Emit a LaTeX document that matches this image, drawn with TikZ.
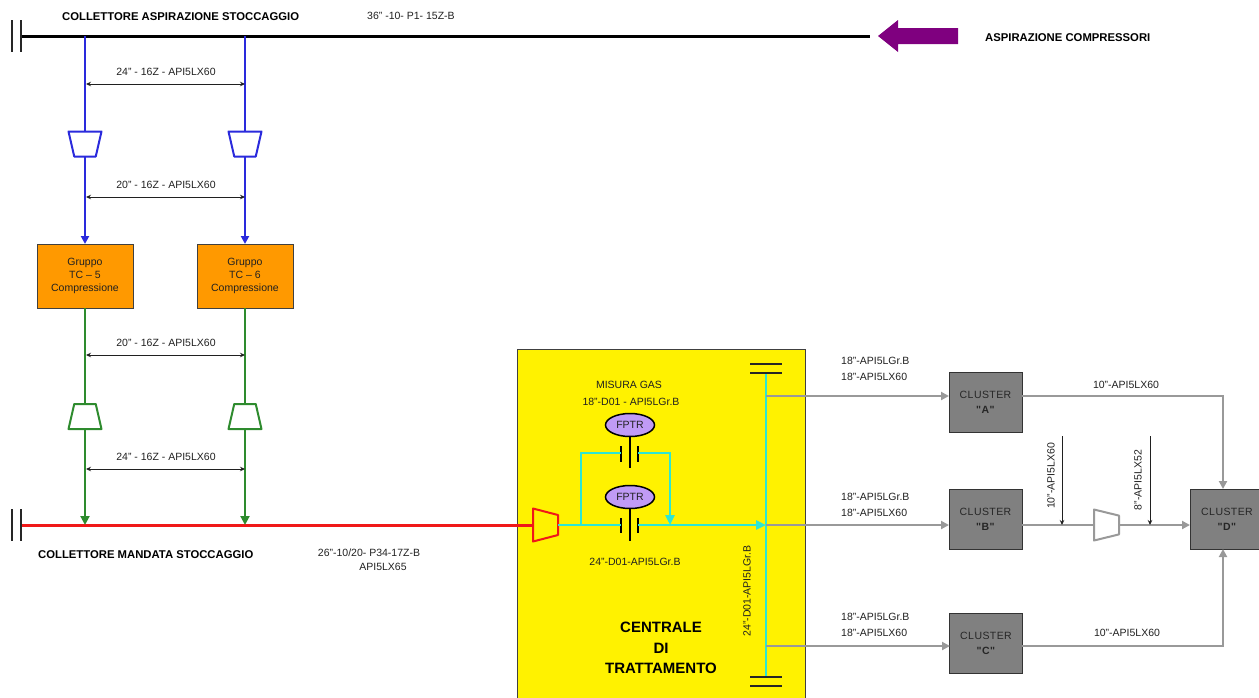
\documentclass[tikz,border=0pt]{standalone}
\usepackage{fontspec}
\setmainfont{Liberation Sans}
\newfontfamily\clusterfont[LetterSpace=4]{Liberation Sans}
\usetikzlibrary{arrows.meta,shapes.geometric,calc}
\definecolor{pipeblue}{HTML}{2A2ADC}
\definecolor{pipegreen}{HTML}{2E8B2E}
\definecolor{piperd}{HTML}{F01818}
\definecolor{pipecyan}{HTML}{2EE6D2}
\definecolor{pipegrey}{HTML}{999999}
\definecolor{boxorange}{HTML}{FF9900}
\definecolor{boxgrey}{HTML}{808080}
\definecolor{fptrfill}{HTML}{C09BF5}
\definecolor{arrowpurple}{HTML}{7F007F}
\definecolor{txt}{HTML}{202020}
\newcommand{\rdz}{\phantom{\rule{1pt}{1pt}}}
\tikzset{
  small/.style={font=\fontsize{10.5}{12}\selectfont,text=txt,inner sep=0pt},
  title/.style={font=\fontsize{11.3}{13}\bfseries\selectfont,text=black,inner sep=0pt},
  big/.style={font=\fontsize{15}{18}\bfseries\selectfont,text=black,inner sep=0pt},
  reducer/.style={trapezium,trapezium stretches=true,minimum width=33pt,minimum height=25pt,
    inner sep=0pt,outer sep=0pt,trapezium left angle=75,trapezium right angle=75,line width=2pt,line join=round},
  reducerh/.style={trapezium,trapezium stretches=true,minimum width=33pt,minimum height=25pt,
    inner sep=0pt,outer sep=0pt,trapezium left angle=72,trapezium right angle=72,line width=2pt,line join=round,rotate=-90},
  group/.style={draw=black!75,line width=.8pt,fill=boxorange,minimum width=96pt,minimum height=64pt,inner sep=0pt,outer sep=0pt,align=center,
    font=\fontsize{10.5}{12.6}\selectfont,text=txt},
  cluster/.style={draw=black!80,line width=.9pt,fill=boxgrey,minimum width=73pt,minimum height=60pt,inner sep=0pt,outer sep=0pt,align=center,
    font=\fontsize{10.5}{15}\clusterfont\selectfont,text=black!85},
  fptr/.style={ellipse,draw=black,line width=1.5pt,fill=fptrfill,minimum width=49pt,minimum height=23pt,inner sep=0pt,outer sep=0pt,
    font=\fontsize{10.5}{12}\selectfont,text=txt},
  dim/.style={draw=txt,line width=.9pt,{Stealth[length=5pt,width=4.5pt]}-{Stealth[length=5pt,width=4.5pt]}},
  note/.style={draw=txt,line width=.9pt,-{Stealth[length=5pt,width=4.5pt]}},
  flange/.style={draw=black!85,line width=1.6pt},
  blueln/.style={draw=pipeblue,line width=2.4pt},
  greenln/.style={draw=pipegreen,line width=2pt},
  cyanln/.style={draw=pipecyan,line width=2.6pt},
  greyln/.style={draw=pipegrey,line width=2pt},
  tipblue/.style={-{Triangle[length=8pt,width=8pt]}},
  tipg/.style={-{Triangle[length=9pt,width=9pt]}},
}
\begin{document}
\begin{tikzpicture}[x=1pt,y=-1pt]
\useasboundingbox (0,0) rectangle (1259,697);
\clip (0,0) rectangle (1259,697);
% yellow plant area
\node[draw=black!75,line width=1pt,fill=yellow,minimum width=288pt,minimum height=362pt,inner sep=0pt,outer sep=0pt,anchor=north west] (plant) at (517,349) {};
% upper header
\coordinate (hl) at (21,36);
\coordinate (hr) at (870,36);
\draw[black,line width=3pt] (hl) -- (hr);
\coordinate (fa1) at (12,20); \coordinate (fa2) at (12,52);
\coordinate (fb1) at (21,20); \coordinate (fb2) at (21,52);
\draw[flange] (fa1) -- (fa2);
\draw[flange] (fb1) -- (fb2);
\node[title,anchor=west] (t1) at (62,17) {COLLETTORE ASPIRAZIONE STOCCAGGIO};
\node[small,anchor=west] (t2) at (367,16) {36" -10- P1- 15Z-B};
\coordinate (pa) at (878,36);
\fill[arrowpurple] (pa) -- ++(20,-16) -- ++(0,8) -- ++(60,0) -- ++(0,16) -- ++(-60,0) -- ++(0,8) -- cycle;
\node[title,anchor=west] (t3) at (985,38) {ASPIRAZIONE COMPRESSORI};
% groups
\node[group] (g5) at (85,276) {Gruppo\\TC -- 5\\Compressione};
\node[group] (g6) at (245,276) {Gruppo\\TC -- 6\\Compressione};
% blue reducers
\node[reducer,draw=pipeblue,fill=white,rotate=180] (rb1) at (85,144) {\rdz};
\node[reducer,draw=pipeblue,fill=white,rotate=180] (rb2) at (245,144) {\rdz};
\coordinate (b1) at (85,36); \coordinate (b2) at (245,36);
\draw[blueln] (b1) -- (rb1.bottom side);
\draw[blueln] (b2) -- (rb2.bottom side);
\draw[blueln,tipblue] (rb1.top side) -- (g5.north);
\draw[blueln,tipblue] (rb2.top side) -- (g6.north);
% green reducers
\node[reducer,draw=pipegreen,fill=white] (rg1) at (85,416.5) {\rdz};
\node[reducer,draw=pipegreen,fill=white] (rg2) at (245,416.5) {\rdz};
\coordinate (m1) at (85,525); \coordinate (m2) at (245,525);
\draw[greenln] (g5.south) -- (rg1.top side);
\draw[greenln] (g6.south) -- (rg2.top side);
% lower header
\node[reducerh,draw=piperd,fill=yellow] (rr) at (545.5,525) {\rdz};
\coordinate (ml) at (21,525);
\draw[piperd,line width=3pt] (ml) -- (rr.bottom side);
\coordinate (fc1) at (12,509); \coordinate (fc2) at (12,541);
\coordinate (fd1) at (21,509); \coordinate (fd2) at (21,541);
\draw[flange] (fc1) -- (fc2);
\draw[flange] (fd1) -- (fd2);
\draw[greenln,tipg] (rg1.bottom side) -- (m1);
\draw[greenln,tipg] (rg2.bottom side) -- (m2);
\node[title,anchor=west] (t4) at (38,555) {COLLETTORE MANDATA STOCCAGGIO};
\node[small] (t5) at (369,553) {26"-10/20- P34-17Z-B};
\node[small] (t6) at (383,567) {API5LX65};
% dimension arrows
\foreach \nm/\yy/\lab in {d1/84/24" - 16Z - API5LX60, d2/197/20" - 16Z - API5LX60, d3/355/20" - 16Z - API5LX60, d4/469/24" - 16Z - API5LX60}{
  \coordinate (\nm a) at (86,\yy);
  \coordinate (\nm b) at (245,\yy);
  \draw[dim] (\nm a) -- (\nm b);
  \node[small] (\nm t) at (166,\yy-12) {\lab};
}
% plant internals
\coordinate (vt) at (766,373); \coordinate (vb) at (766,677);
\draw[cyanln] (vt) -- (vb);
\coordinate (ca1) at (750,364); \coordinate (ca2) at (782,364);
\coordinate (cb1) at (750,373); \coordinate (cb2) at (782,373);
\coordinate (cc1) at (750,677); \coordinate (cc2) at (782,677);
\coordinate (cd1) at (750,686); \coordinate (cd2) at (782,686);
\draw[black!85,line width=1.6pt] (ca1) -- (ca2);
\draw[black!85,line width=1.6pt] (cb1) -- (cb2);
\draw[black!85,line width=1.6pt] (cc1) -- (cc2);
\draw[black!85,line width=1.6pt] (cd1) -- (cd2);
\node[small] (t7) at (629,385) {MISURA GAS};
\node[small] (t8) at (631,402) {18"-D01 - API5LGr.B};
\node[fptr] (f1) at (630,425) {FPTR};
\node[fptr] (f2) at (630,497) {FPTR};
\coordinate (s1) at (630,468); \coordinate (s2) at (630,541);
\draw[black,line width=1.4pt] (f1.south) -- (s1);
\draw[black,line width=1.4pt] (f2.south) -- (s2);
\foreach \nm/\xx/\ya/\yb in {pa1/621/446/462,pa2/638/446/462,pb1/621/518/533,pb2/638/518/533}{
  \coordinate (\nm u) at (\xx,\ya); \coordinate (\nm d) at (\xx,\yb);
  \draw[black,line width=1.4pt] (\nm u) -- (\nm d);
}
\coordinate (j0) at (581,525); \coordinate (j1) at (581,453); \coordinate (j2) at (670,453); \coordinate (j3) at (670,525);
\coordinate (o1) at (621,453); \coordinate (o2) at (638,453);
\coordinate (o3) at (621,525); \coordinate (o4) at (638,525); \coordinate (jv) at (766,525);
\draw[cyanln] (rr.top side) -- (o3);
\draw[cyanln] (j0) -- (j1) -- (o1);
\draw[cyanln,-{Triangle[length=10pt,width=9pt]}] (o2) -- (j2) -- (j3);
\draw[cyanln,-{Triangle[length=10pt,width=9pt]}] (o4) -- (jv);
\node[small] (t9) at (635,562) {24"-D01-API5LGr.B};
\node[small,rotate=90] (t10) at (747,591) {24"-D01-API5LGr.B};
\node[big] (c1) at (661,627) {CENTRALE};
\node[big] (c2) at (661,648) {DI};
\node[big] (c3) at (661,668) {TRATTAMENTO};
% clusters
\node[cluster] (ca) at (985.5,402.5) {CLUSTER\\\textbf{"A"}};
\node[cluster] (cb) at (985.5,519) {CLUSTER\\\textbf{"B"}};
\node[cluster] (cc) at (986,643) {CLUSTER\\\textbf{"C"}};
\node[cluster,minimum width=74pt] (cdd) at (1227,519) {CLUSTER\\\textbf{"D"}};
\coordinate (va) at (766,396); \coordinate (vc) at (766,646);
\coordinate (ea) at (949,396); \coordinate (eb) at (949,525); \coordinate (ec) at (950,646);
\draw[greyln,tipblue] (va) -- (ea);
\draw[greyln,tipblue] (jv) -- (eb);
\draw[greyln,tipblue] (vc) -- (ec);
\node[reducerh,draw=pipegrey,fill=white,minimum width=31pt] (rw) at (1106.5,525) {\rdz};
\coordinate (xb) at (1022,525); \coordinate (ed) at (1190,525);
\draw[greyln] (xb) -- (rw.bottom side);
\draw[greyln,tipblue] (rw.top side) -- (ed);
\coordinate (xa) at (1022,396); \coordinate (ka) at (1223,396); \coordinate (ta) at (1223,489);
\coordinate (xc) at (1022,646); \coordinate (kc) at (1223,646); \coordinate (tc) at (1223,549);
\draw[greyln,tipblue] (xa) -- (ka) -- (ta);
\draw[greyln,tipblue] (xc) -- (kc) -- (tc);
\coordinate (n1a) at (1062,436); \coordinate (n1b) at (1062,525);
\coordinate (n2a) at (1150,436); \coordinate (n2b) at (1150,525);
\draw[note] (n1a) -- (n1b);
\draw[note] (n2a) -- (n2b);
\node[small,rotate=90] (l1) at (1051,476) {10"-API5LX60};
\node[small,rotate=90] (l2) at (1138,480) {8"-API5LX52};
\node[small] (l3) at (1126,385) {10"-API5LX60};
\node[small] (l4) at (1127,633) {10"-API5LX60};
\foreach \nm/\ya/\yb in {m/361/377,n/497/513,o/617/633}{
  \node[small,anchor=west] (\nm a) at (841,\ya) {18"-API5LGr.B};
  \node[small,anchor=west] (\nm b) at (841,\yb) {18"-API5LX60};
}
\end{tikzpicture}
\end{document}
